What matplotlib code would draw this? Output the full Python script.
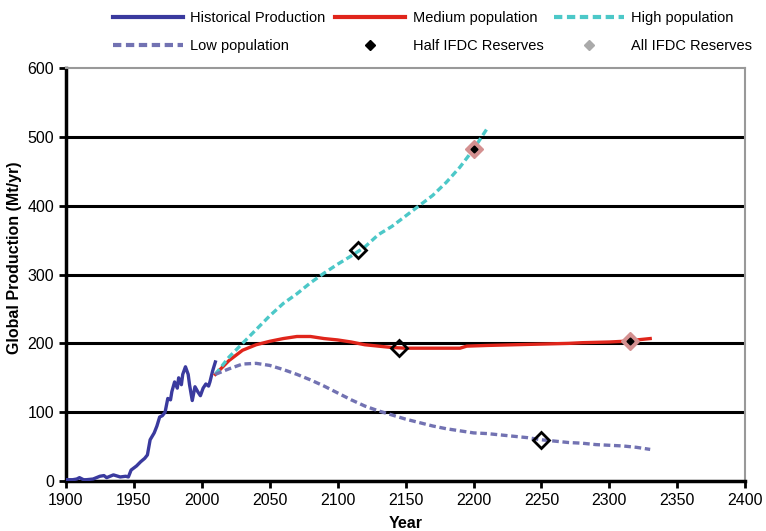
import matplotlib.pyplot as plt
from matplotlib.lines import Line2D

plt.rcParams['font.family'] = ['Liberation Sans', 'DejaVu Sans']

# Historical production (Mt/yr)
hist_years = [1900, 1905, 1908, 1910, 1913, 1915, 1920, 1925, 1928, 1930, 1935, 1940, 1944, 1946,
              1948, 1952, 1955, 1958, 1960, 1962, 1965, 1967, 1969, 1971, 1973, 1975, 1977, 1978,
              1980, 1982, 1983, 1985, 1986, 1988, 1990, 1991, 1993, 1995, 1997, 1999, 2001, 2003,
              2005, 2006, 2008, 2010]
hist_vals = [2, 2, 3, 5, 2, 2, 3, 7, 8, 5, 9, 6, 7, 6, 16, 22, 28, 33, 38, 60, 70, 80, 93, 95,
             100, 120, 118, 130, 144, 135, 150, 140, 155, 166, 155, 140, 117, 137, 130, 124, 135,
             141, 138, 144, 160, 173]

# Projections
med_years = [2010, 2020, 2030, 2040, 2050, 2060, 2070, 2080, 2090, 2100, 2110, 2120, 2130, 2140,
             2150, 2160, 2170, 2180, 2190, 2195, 2210, 2230, 2250, 2270, 2280, 2300, 2310, 2320, 2330]
med_vals = [155, 175, 190, 198, 203, 207, 210, 210, 207, 205, 202, 198, 196, 194, 193, 193, 193,
            193, 193, 196, 197, 198, 199, 200, 201, 202, 203, 205, 207]

high_years = [2010, 2020, 2030, 2040, 2050, 2060, 2070, 2080, 2090, 2100, 2110, 2120, 2130, 2140,
              2150, 2160, 2170, 2180, 2190, 2200, 2210]
high_vals = [155, 180, 200, 220, 240, 258, 272, 288, 302, 315, 327, 340, 358, 370, 385, 400, 415,
             434, 456, 482, 512]

low_years = [2010, 2020, 2030, 2040, 2050, 2060, 2070, 2080, 2090, 2100, 2110, 2120, 2130, 2140,
             2150, 2160, 2170, 2180, 2190, 2200, 2210, 2220, 2230, 2240, 2250, 2260, 2270, 2280,
             2290, 2300, 2310, 2320, 2330]
low_vals = [155, 163, 170, 171, 168, 162, 155, 147, 138, 128, 118, 109, 102, 96, 90, 85, 80, 76,
            73, 70, 69, 67, 65, 63, 60, 58, 56, 55, 53, 52, 51, 49, 46]

# Reserve markers
half_years = [2115, 2145, 2250]
half_vals = [335, 193, 60]
all_years = [2200, 2315]
all_vals = [482, 203]

fig = plt.figure(figsize=(7.66, 5.31), dpi=100)
ax = fig.add_axes([0.086, 0.094, 0.887, 0.778])

dash = (0, (2.0, 1.1))
ax.plot(hist_years, hist_vals, color='#3a3a9e', lw=2.4, zorder=4)
ax.plot(med_years, med_vals, color='#e0251b', lw=2.4, zorder=4)
ax.plot(high_years, high_vals, color='#4cc8c8', lw=2.4, ls=dash, zorder=4)
ax.plot(low_years, low_vals, color='#7272b2', lw=2.4, ls=dash, zorder=4)

ax.plot(half_years, half_vals, ls='none', marker='D', ms=8, mfc='none', mec='black', mew=2, zorder=5)
ax.plot(all_years, all_vals, ls='none', marker='D', ms=9, mfc='#d49090', mec='#d49090', zorder=5)
ax.plot(all_years, all_vals, ls='none', marker='D', ms=3.5, color='black', zorder=6)

ax.set_xlim(1900, 2400)
ax.set_ylim(0, 600)
ax.set_xticks(range(1900, 2401, 50))
ax.set_yticks(range(0, 601, 100))
for y in range(100, 600, 100):
    ax.axhline(y, color='black', lw=2.2, zorder=1)

for s in ['left', 'bottom']:
    ax.spines[s].set_color('black')
    ax.spines[s].set_linewidth(2.5)
for s in ['top', 'right']:
    ax.spines[s].set_color('#999999')
    ax.spines[s].set_linewidth(1.5)
ax.tick_params(direction='out', length=5, width=2, labelsize=11.5, color='black')

ax.set_xlabel('Year', fontsize=11.5, fontweight='bold', labelpad=6)
ax.set_ylabel('Global Production (Mt/yr)', fontsize=11.5, fontweight='bold')
ax.yaxis.set_label_coords(-0.064, 0.54)

handles = [
    Line2D([], [], color='#3a3a9e', lw=3),
    Line2D([], [], color='#7272b2', lw=3, ls=dash),
    Line2D([], [], color='#e0251b', lw=3),
    Line2D([], [], ls='none', marker='D', ms=5, color='black'),
    Line2D([], [], color='#4cc8c8', lw=3, ls=dash),
    Line2D([], [], ls='none', marker='D', ms=5, color='#aaaaaa'),
]
labels = ['Historical Production', 'Low population', 'Medium population',
          'Half IFDC Reserves', 'High population', 'All IFDC Reserves']
fig.legend(handles, labels, loc='upper left', bbox_to_anchor=(0.13, 1.004), ncol=3,
           frameon=False, fontsize=10.5, handlelength=4.8, handletextpad=0.5,
           columnspacing=0.7, labelspacing=0.95)

fig.savefig('out.png', dpi=100)
